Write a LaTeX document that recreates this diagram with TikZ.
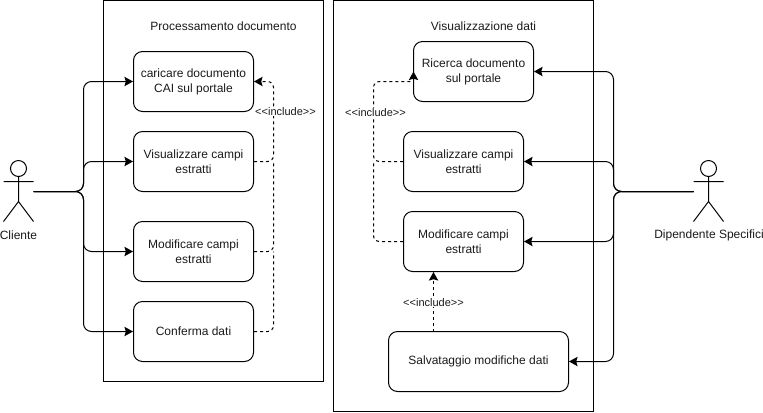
\documentclass[tikz,border=0pt]{standalone}
\usepackage{fontspec}
\setmainfont[Ligatures=NoCommon]{Liberation Sans}
\usetikzlibrary{arrows.meta}
\definecolor{ink}{HTML}{1A1A1A}
\tikzset{
  usecase/.style={draw=black,line width=0.75pt,rounded corners=6.75pt,minimum width=#1*0.75pt,minimum height=45pt,align=center,inner sep=0pt,text=ink,font=\fontsize{9}{11.25}\selectfont},
  usecase/.default=120,
  frame/.style={draw=black,line width=0.75pt},
  txt/.style={text=ink,font=\fontsize{9}{11.25}\selectfont,inner sep=0pt,align=center},
  tag/.style={text=ink,fill=white,font=\fontsize{8.25}{10}\selectfont,inner sep=0.5pt},
  actorline/.style={draw=black,line width=0.75pt},
  headtip/.tip={Stealth[length=6.4pt,width=7pt,inset=1pt]},
  assoc/.style={draw=black,line width=0.75pt,rounded corners=6pt,-headtip},
  incl/.style={draw=black,line width=0.75pt,rounded corners=4.5pt,dash pattern=on 2.25pt off 2.25pt},
  inclarrow/.style={incl,-headtip},
}
\newcommand{\inctext}{{<}{<}include{>}{>}}
\begin{document}
\begin{tikzpicture}[x=0.75pt,y=-0.75pt]
\useasboundingbox (0,0) rectangle (763,412);
\begin{scope}[shift={(0.5,0.5)}]
% frames
\draw[frame] (103,0) rectangle (323,381);
\draw[frame] (333,0) rectangle (593,411);
\node[txt] (t1) at (223,26) {Processamento documento};
\node[txt] (t2) at (483,26) {Visualizzazione dati};
% left use cases
\node[usecase] (a1) at (193,81) {caricare documento\\CAI sul portale};
\node[usecase] (a2) at (193,161) {Visualizzare campi\\estratti};
\node[usecase] (a3) at (193,251) {Modificare campi\\estratti};
\node[usecase] (a4) at (193,331) {Conferma dati};
% right use cases
\node[usecase] (b1) at (473,71) {Ricerca documento\\sul portale};
\node[usecase] (b2) at (463,161) {Visualizzare campi\\estratti};
\node[usecase] (b3) at (463,241) {Modificare campi\\estratti};
\node[usecase=180] (b4) at (478,361) {Salvataggio modifiche dati};
% actors
\draw[actorline] (18,168) circle (8);
\draw[actorline] (18,176) -- (18,201) (3,181) -- (33,181) (3,221) -- (18,201) -- (33,221);
\node[txt] (cl) at (18,234.5) {Cliente};
\draw[actorline] (708,168) circle (8);
\draw[actorline] (708,176) -- (708,201) (693,181) -- (723,181) (693,221) -- (708,201) -- (723,221);
\node[txt] (dp) at (708.5,234.5) {Dipendente Specifici};
\coordinate (lport) at (33,191);
\coordinate (lbus) at (83,191);
\coordinate (rport) at (693,191);
\coordinate (rbus) at (613,191);
% associations
\foreach \t in {a1,a2,a3,a4}{\draw[assoc] (lport) -- (lbus) |- (\t.west);}
\foreach \t in {b1,b2,b3,b4}{\draw[assoc] (rport) -- (rbus) |- (\t.east);}
% includes left
\coordinate (lrail) at (273,191);
\draw[inclarrow] (a2.east) -| (lrail |- a1.east) -- (a1.east);
\draw[incl] (a3.east) -| (lrail |- a2.east);
\draw[incl] (a4.east) -| (lrail |- a3.east);
\node[tag] (il) at (285,111) {\inctext};
% includes right
\coordinate (rrail) at (373,191);
\coordinate (bin) at (413,81);
\draw[incl] (b2.west) -| (rrail |- bin) -- (bin);
\draw[incl] (b3.west) -| (rrail |- b2.west);
\draw[-headtip,line width=0.75pt] (bin) -- ++(0,-10);
\node[tag] (ir) at (375,112) {\inctext};
\coordinate (bs) at (433,331);
\draw[inclarrow] (bs) -- (bs |- b3.south);
\node[tag] (is) at (433,302) {\inctext};
\end{scope}
\end{tikzpicture}
\end{document}
